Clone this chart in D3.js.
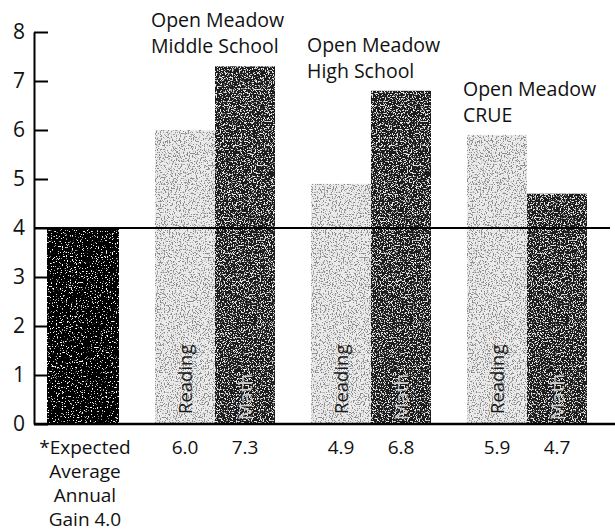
<!DOCTYPE html>
<html><head><meta charset="utf-8">
<script src="https://cdn.jsdelivr.net/npm/d3@7"></script>
<style>
body{margin:0;background:#fff}
svg{display:block}
text{font-family:"Open Sans",sans-serif}
</style>
</head><body>
<svg id="c" width="615" height="531"></svg>
<script>
// ---- data ----
const groups = ["Open Meadow Middle School", "Open Meadow High School", "Open Meadow CRUE"];
const groupTitleLines = [["Open Meadow", "Middle School"], ["Open Meadow", "High School"], ["Open Meadow", "CRUE"]];
const subjects = ["Reading", "Math"];
const readingGains = [6.0, 4.9, 5.9];
const mathGains = [7.3, 6.8, 4.7];
const expectedCategory = ["Expected"];
const expectedGain = 4.0;
const expectedLabelLines = ["*Expected", "Average", "Annual", "Gain 4.0"];
const yTicks = [0, 1, 2, 3, 4, 5, 6, 7, 8];

const rows = groups.map((g, i) => ({
  group: g, title: groupTitleLines[i],
  values: [{subject: "Reading", v: readingGains[i]}, {subject: "Math", v: mathGains[i]}]
}));

// ---- layout ----
const W = 615, H = 531;
const axisX = 34, yTop = 32, yBottom = 424;
const svg = d3.select("#c");
svg.append("rect").attr("width", W).attr("height", H).attr("fill", "#fff");

const y = d3.scaleLinear().domain([0, 8]).range([yBottom, yTop]);
const xGroup = d3.scaleBand().domain(groups).range([155, 587]).paddingInner(0.2308);
const xSub = d3.scaleBand().domain(subjects).range([0, xGroup.bandwidth()]);
const xExp = d3.scaleBand().domain(expectedCategory).range([47, 119]);

// ---- speckle textures ----
const defs = svg.append("defs");
function speckle(id, dot, k, b, seed, freq) {
  const f = defs.append("filter").attr("id", id)
    .attr("x", 0).attr("y", 0).attr("width", 1).attr("height", 1);
  f.append("feTurbulence").attr("type", "fractalNoise").attr("baseFrequency", freq)
    .attr("numOctaves", 2).attr("seed", seed).attr("result", "n");
  const c = d3.color(dot);
  f.append("feColorMatrix").attr("in", "n").attr("type", "matrix")
    .attr("values", `0 0 0 0 ${c.r/255} 0 0 0 0 ${c.g/255} 0 0 0 0 ${c.b/255} ${k} 0 0 0 ${b}`)
    .attr("result", "dots");
  f.append("feComposite").attr("in", "dots").attr("in2", "SourceGraphic").attr("operator", "in").attr("result", "d2");
  const m = f.append("feMerge");
  m.append("feMergeNode").attr("in", "SourceGraphic");
  m.append("feMergeNode").attr("in", "d2");
}
speckle("spLight", "#444", 10, -5.3, 3, 0.75);
speckle("spDark", "#cfcfcf", 10, -5.4, 7, 0.75);
speckle("spBlack", "#ffffff", 12, -7.6, 11, 0.8);

const fills = {Reading: "#ebebeb", Math: "#1c1c1c"};
const filt = {Reading: "url(#spLight)", Math: "url(#spDark)"};

// ---- expected bar ----
svg.append("g").selectAll("rect").data([expectedGain]).join("rect")
  .attr("x", xExp("Expected")).attr("width", xExp.bandwidth())
  .attr("y", d => y(d)).attr("height", d => y(0) - y(d))
  .attr("fill", "#060606").attr("filter", "url(#spBlack)");

// ---- grouped bars ----
const gg = svg.append("g").selectAll("g").data(rows).join("g")
  .attr("transform", d => `translate(${xGroup(d.group)},0)`);

gg.selectAll("rect").data(d => d.values).join("rect")
  .attr("x", d => xSub(d.subject)).attr("width", xSub.bandwidth())
  .attr("y", d => y(d.v)).attr("height", d => y(0) - y(d.v))
  .attr("fill", d => fills[d.subject]).attr("filter", d => filt[d.subject]);

// subject labels inside bars (rotated)
gg.selectAll("text.sub").data(d => d.values).join("text").attr("class", "sub")
  .attr("transform", d => `translate(${xSub(d.subject) + xSub.bandwidth() / 2 + 7},${d.subject === "Reading" ? y(0) - 10 : y(0) - 4}) rotate(-90)`)
  .attr("font-size", d => d.subject === "Reading" ? 18.5 : 19)
  .attr("fill", d => d.subject === "Reading" ? "#1a1a1a" : "#cfcfcf")
  .text(d => d.subject);

// value labels under bars
gg.selectAll("text.val").data(d => d.values).join("text").attr("class", "val")
  .attr("x", d => xSub(d.subject) + xSub.bandwidth() / 2)
  .attr("y", y(0) + 30)
  .attr("text-anchor", "middle").attr("font-size", 19).attr("fill", "#111")
  .text(d => d3.format(".1f")(d.v));

// group titles above tallest bar
gg.each(function(d) {
  const top = y(d3.max(d.values, v => v.v));
  const t = d3.select(this).append("text")
    .attr("x", -4).attr("font-size", 19.5).attr("fill", "#111");
  d.title.forEach((line, i) => {
    t.append("tspan").attr("x", -4).attr("y", top - 13 - (d.title.length - 1 - i) * 26).text(line);
  });
});

// ---- expected label ----
svg.append("text").attr("text-anchor", "middle").attr("font-size", 19).attr("fill", "#111")
  .selectAll("tspan").data(expectedLabelLines).join("tspan")
  .attr("x", xExp("Expected") + xExp.bandwidth() / 2 + 2)
  .attr("y", (d, i) => y(0) + 30 + i * 24)
  .text(d => d);

// ---- reference line at expected gain ----
svg.append("line").attr("x1", axisX).attr("x2", 610)
  .attr("y1", y(expectedGain)).attr("y2", y(expectedGain))
  .attr("stroke", "#000").attr("stroke-width", 2);

// ---- baseline ----
svg.append("line").attr("x1", axisX).attr("x2", W)
  .attr("y1", y(0)).attr("y2", y(0))
  .attr("stroke", "#000").attr("stroke-width", 2.5);

// ---- y axis ----
const ax = svg.append("g").attr("transform", `translate(${axisX},0)`)
  .call(d3.axisLeft(y).tickValues(yTicks).tickSize(-14).tickSizeOuter(0).tickPadding(9).tickFormat(d3.format("d")));
ax.select(".domain").attr("stroke", "#000").attr("stroke-width", 2);
ax.selectAll(".tick line").attr("stroke", "#000").attr("stroke-width", 2);
ax.selectAll(".tick text").attr("font-size", 21).attr("fill", "#111")
  .attr("font-family", "'Open Sans',sans-serif");
</script>
</body></html>
